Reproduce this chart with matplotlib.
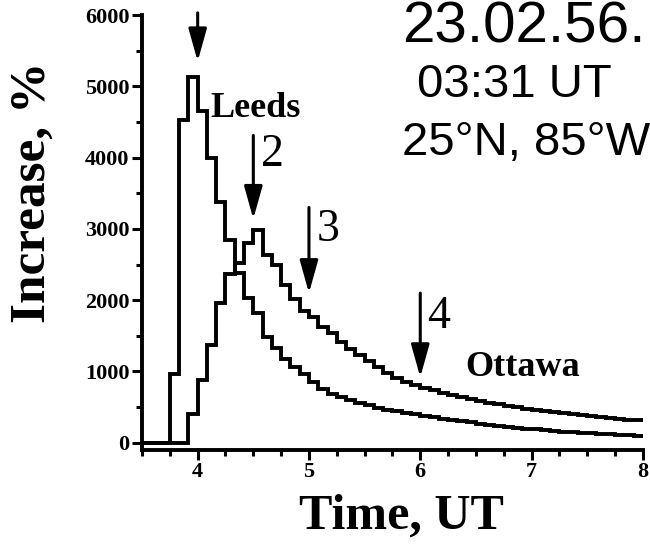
import numpy as np
import matplotlib
matplotlib.use('Agg')
import matplotlib.pyplot as plt
from matplotlib.ticker import MultipleLocator

# 5-minute counts, first bin starts at 3:45 UT
t_start = 3.75
bin_h = 5 / 60

leeds = [970, 4530, 5130, 4650, 4000, 3380, 2850, 2380, 2030, 1820,
         1480, 1330, 1180, 1060, 960, 850, 760, 690, 640, 600,
         560, 530, 490, 460, 440, 420, 400, 380, 360, 340,
         320, 300, 285, 270, 255, 240, 225, 210, 198, 188,
         178, 168, 158, 150, 142, 134, 126, 120, 114, 108, 102]

# Ottawa starts two bins later
ottawa_first_bin = 2
ottawa = [400, 880, 1370, 1960, 2370, 2520, 2800, 2990, 2630, 2490,
          2210, 2010, 1850, 1760, 1620, 1535, 1420, 1320, 1230, 1150,
          1060, 980, 910, 850, 810, 770, 735, 700, 668, 638,
          610, 584, 560, 537, 515, 495, 476, 458, 442, 427,
          412, 398, 385, 372, 360, 348, 337, 326, 315]

# arrows: (time, top, tip)
arrows = [(4.0, 6030, 5350),
          (4.5, 4310, 3140),
          (5.0, 3300, 2100),
          (6.0, 2100, 920)]

# arrow numbers: (text, left x, baseline y)
arrow_labels = [('2', 4.57, 3880),
                ('3', 5.07, 2830),
                ('4', 6.06, 1610)]

x_start = 3.5

edges = np.concatenate([[x_start], t_start + np.arange(len(leeds) + 1) * bin_h])
leeds_vals = [0] + leeds
ottawa_vals = [0] * (ottawa_first_bin + 1) + ottawa

fig = plt.figure(figsize=(6.5, 5.46), dpi=100)
ax = fig.add_axes([0.2185, 0.176, 0.7705, 0.7965])

ax.stairs(leeds_vals, edges, baseline=None, color='black', lw=2.8)
ax.stairs(ottawa_vals, edges, baseline=None, color='black', lw=2.8)

ax.set_xlim(3.5, 8)
ax.set_ylim(-100, 6000)

for sp in ['top', 'right']:
    ax.spines[sp].set_visible(False)
for sp in ['left', 'bottom']:
    ax.spines[sp].set_linewidth(2.8)

ax.xaxis.set_major_locator(MultipleLocator(1))
ax.xaxis.set_minor_locator(MultipleLocator(0.25))
ax.yaxis.set_major_locator(MultipleLocator(1000))
ax.yaxis.set_minor_locator(MultipleLocator(500))
ax.tick_params(which='major', length=7, width=2.2, direction='out', pad=2)
ax.tick_params(which='minor', length=4, width=2.2, direction='out')

for lab in ax.get_xticklabels() + ax.get_yticklabels():
    lab.set_fontfamily('Liberation Serif')
    lab.set_fontweight('bold')
    lab.set_fontsize(16)

for t, y0, y1 in arrows:
    ax.annotate('', xy=(t, y1), xytext=(t, y0), annotation_clip=False,
                arrowprops=dict(arrowstyle='-|>,head_length=1.0,head_width=0.28',
                                mutation_scale=20, color='black', lw=2.2,
                                shrinkA=0, shrinkB=0))
for txt, x, y in arrow_labels:
    ax.text(x, y, txt, fontsize=33, family='Liberation Serif',
            ha='left', va='baseline')

ax.text(4.11, 4690, 'Leeds', fontsize=26, family='Liberation Serif',
        fontweight='bold', va='center', ha='left')
ax.text(6.4, 1060, 'Ottawa', fontsize=26, family='Liberation Serif',
        fontweight='bold', va='center', ha='left')

fig.text(0.618, 0.922, '23.02.56.', fontsize=42, family='Liberation Sans', va='baseline')
fig.text(0.6415, 0.822, '03:31 UT', fontsize=34, family='Liberation Sans', va='baseline')
fig.text(0.618, 0.716, '25°N, 85°W', fontsize=34, family='Liberation Sans', va='baseline')

fig.text(0.617, 0.053, 'Time, UT', fontsize=36, family='Liberation Serif',
         fontweight='bold', ha='center', va='center')
fig.text(0.05, 0.648, 'Increase, %', fontsize=37, family='Liberation Serif',
         fontweight='bold', ha='center', va='center', rotation=90)

fig.savefig('out.png', dpi=100)
plt.close(fig)
